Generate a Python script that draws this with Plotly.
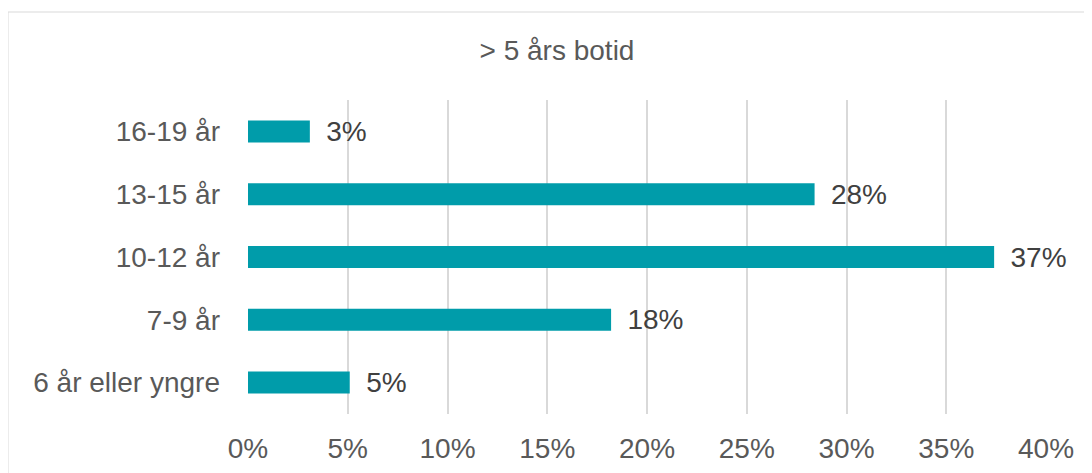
import plotly.graph_objects as go

categories = ["6 år eller yngre", "7-9 år", "10-12 år", "13-15 år", "16-19 år"]
values = [0.051, 0.182, 0.374, 0.284, 0.031]
tick_vals = [0, 0.05, 0.10, 0.15, 0.20, 0.25, 0.30, 0.35, 0.40]
title_text = "> 5 års botid"

FONT = "Arial, Liberation Sans, sans-serif"
FS = 28

# page body has an 8px margin; compensate so the chart lands where the reference is
OFF = 8
W, H = 1092 - OFF, 473 - OFF
L, T = 248 - OFF, 100 - OFF
R = W - (1046 - OFF)
B = H - (414 - OFF)
pw, ph = W - L - R, H - T - B

fig = go.Figure(go.Bar(
    y=categories,
    x=values,
    orientation="h",
    marker=dict(color="#009CAA", line=dict(width=0)),
    width=0.35,
    texttemplate=" \u2009%{x:.0%}",
    textposition="outside",
    constraintext="none",
    textfont=dict(family=FONT, size=FS, color="#404040"),
    cliponaxis=False,
))

fig.update_layout(
    width=W, height=H,
    margin=dict(l=L, r=R, t=T, b=B, autoexpand=False),
    paper_bgcolor="white",
    plot_bgcolor="white",
    showlegend=False,
    font=dict(family=FONT, color="#595959"),
    title=dict(text=title_text, x=(557 - OFF) / W, xanchor="center",
               y=1 - (50 - OFF) / H, yanchor="middle",
               font=dict(family=FONT, size=FS, color="#595959")),
    xaxis=dict(
        range=[0, 0.40],
        tickvals=tick_vals,
        tickformat=".0%",
        showgrid=True, gridcolor="#D9D9D9", gridwidth=2,
        zeroline=False, showline=False,
        tickfont=dict(family=FONT, size=FS, color="#595959"),
        ticklabelstandoff=15,
        automargin=False,
        fixedrange=True,
    ),
    yaxis=dict(
        categoryorder="array", categoryarray=categories,
        showgrid=False, zeroline=False, showline=False,
        tickfont=dict(family=FONT, size=FS, color="#595959"),
        ticklabelstandoff=27,
        automargin=False,
        fixedrange=True,
    ),
    bargap=0.65,
    shapes=[dict(
        type="rect", xref="paper", yref="paper",
        x0=(8 - OFF - L) / pw, x1=(W + 20 - L) / pw,
        y0=-(B + 30) / ph, y1=(T - (12 - OFF)) / ph + 1,
        line=dict(color="#D9D9D9", width=1), fillcolor="rgba(0,0,0,0)",
        layer="below",
    )],
)

fig.write_html("out.html")
